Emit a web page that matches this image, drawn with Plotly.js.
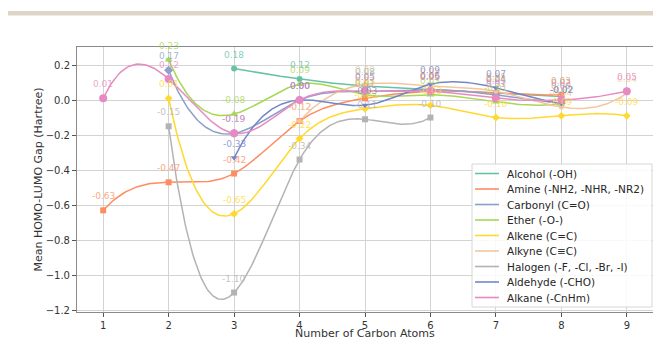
<!DOCTYPE html>
<html>
<head>
<meta charset="utf-8">
<script src="https://cdn.plot.ly/plotly-3.0.1.min.js"></script>
<style>
  html, body { margin: 0; padding: 0; background: #fff; }
  #chart { width: 653px; height: 338px; }
</style>
</head>
<body>
<div id="chart"></div>
<script>
// Mean HOMO-LUMO gap per functional group versus carbon count
const groupNames = [
  "Alcohol (-OH)",
  "Amine (-NH2, -NHR, -NR2)",
  "Carbonyl (C=O)",
  "Ether (-O-)",
  "Alkene (C=C)",
  "Alkyne (C\u2261C)",
  "Halogen (-F, -Cl, -Br, -I)",
  "Aldehyde (-CHO)",
  "Alkane (-CnHm)"
];

const alcoholX  = [3, 4, 5, 6, 7, 8];
const alcoholY  = [0.18, 0.12, 0.08, 0.06, 0.04, 0.02];
const amineX    = [1, 2, 3, 4, 5, 6, 7, 8];
const amineY    = [-0.63, -0.47, -0.42, -0.12, 0.01, 0.05, 0.04, 0.03];
const carbonylX = [2, 3, 4, 5, 6, 7, 8];
const carbonylY = [0.17, -0.19, 0.00, 0.05, 0.06, 0.03, -0.02];
const etherX    = [2, 3, 4, 5, 6, 7, 8];
const etherY    = [0.23, -0.08, 0.09, 0.03, 0.03, -0.01, -0.02];
const alkeneX   = [2, 3, 4, 5, 6, 7, 8, 9];
const alkeneY   = [0.01, -0.65, -0.22, -0.05, -0.03, -0.10, -0.09, -0.09];
const alkyneX   = [4, 5, 6, 7, 8, 9];
const alkyneY   = [-0.12, 0.09, 0.08, 0.05, -0.04, 0.04];
const halogenX  = [2, 3, 4, 5, 6];
const halogenY  = [-0.15, -1.10, -0.34, -0.11, -0.10];
const aldehydeX = [3, 4, 5, 6, 7, 8];
const aldehydeY = [-0.33, 0.00, -0.03, 0.09, 0.07, -0.02];
const alkaneX   = [1, 2, 3, 4, 5, 6, 7, 8, 9];
const alkaneY   = [0.01, 0.12, -0.19, 0.00, 0.05, 0.05, 0.01, 0.00, 0.05];

const xTicks = [1, 2, 3, 4, 5, 6, 7, 8, 9];
const yTicks = [-1.2, -1.0, -0.8, -0.6, -0.4, -0.2, 0.0, 0.2];

const groupColors = ["#66c2a5", "#fc8d62", "#8da0cb", "#a6d854", "#ffd92f",
                     "#f3c6a0", "#b3b3b3", "#7486c6", "#e78ac3"];
const groupSymbols = ["circle", "square", "diamond", "triangle-up", "diamond",
                      "circle", "square", "triangle-down", "circle"];
const groupSizes = [6, 6, 7, 7, 6, 5, 6, 6, 8];

const groups = [
  [alcoholX, alcoholY], [amineX, amineY], [carbonylX, carbonylY],
  [etherX, etherY], [alkeneX, alkeneY], [alkyneX, alkyneY],
  [halogenX, halogenY], [aldehydeX, aldehydeY], [alkaneX, alkaneY]
];

// Cubic spline with not-a-knot end conditions, used to draw the smooth curves
function splineCurve(xs, ys, samples) {
  const n = xs.length;
  const h = [];
  for (let i = 0; i < n - 1; i++) h.push(xs[i + 1] - xs[i]);
  let M = new Array(n).fill(0);
  if (n === 3) {
    const s0 = (ys[1] - ys[0]) / h[0], s1 = (ys[2] - ys[1]) / h[1];
    const c = 2 * (s1 - s0) / (h[0] + h[1]);
    M = [c, c, c];
  } else if (n >= 4) {
    const A = [], b = [];
    for (let r = 0; r < n; r++) { A.push(new Array(n).fill(0)); b.push(0); }
    A[0][0] = h[1]; A[0][1] = -(h[0] + h[1]); A[0][2] = h[0];
    for (let i = 1; i < n - 1; i++) {
      A[i][i - 1] = h[i - 1];
      A[i][i] = 2 * (h[i - 1] + h[i]);
      A[i][i + 1] = h[i];
      b[i] = 6 * ((ys[i + 1] - ys[i]) / h[i] - (ys[i] - ys[i - 1]) / h[i - 1]);
    }
    A[n - 1][n - 3] = h[n - 2]; A[n - 1][n - 2] = -(h[n - 3] + h[n - 2]); A[n - 1][n - 1] = h[n - 3];
    // Gaussian elimination with partial pivoting
    for (let k = 0; k < n; k++) {
      let p = k;
      for (let r = k + 1; r < n; r++) if (Math.abs(A[r][k]) > Math.abs(A[p][k])) p = r;
      [A[k], A[p]] = [A[p], A[k]]; [b[k], b[p]] = [b[p], b[k]];
      for (let r = k + 1; r < n; r++) {
        const f = A[r][k] / A[k][k];
        for (let c = k; c < n; c++) A[r][c] -= f * A[k][c];
        b[r] -= f * b[k];
      }
    }
    for (let k = n - 1; k >= 0; k--) {
      let s = b[k];
      for (let c = k + 1; c < n; c++) s -= A[k][c] * M[c];
      M[k] = s / A[k][k];
    }
  }
  const outX = [], outY = [];
  const x0 = xs[0], x1 = xs[n - 1];
  for (let s = 0; s <= samples; s++) {
    const x = x0 + (x1 - x0) * s / samples;
    let i = 0;
    while (i < n - 2 && x > xs[i + 1]) i++;
    const hi = h[i], a = xs[i + 1] - x, c = x - xs[i];
    const y = M[i] * a * a * a / (6 * hi) + M[i + 1] * c * c * c / (6 * hi)
            + (ys[i] / hi - M[i] * hi / 6) * a + (ys[i + 1] / hi - M[i + 1] * hi / 6) * c;
    outX.push(x); outY.push(y);
  }
  return [outX, outY];
}

function withAlpha(hex, a) {
  const v = parseInt(hex.slice(1), 16);
  return `rgba(${(v >> 16) & 255},${(v >> 8) & 255},${v & 255},${a})`;
}

const traces = [];
groups.forEach(([xs, ys], g) => {
  const [sx, sy] = splineCurve(xs, ys, 240);
  traces.push({
    x: sx, y: sy, type: "scatter", mode: "lines",
    line: { color: groupColors[g], width: 1.5 },
    hoverinfo: "skip", showlegend: false
  });
});
groups.forEach(([xs, ys], g) => {
  traces.push({
    x: xs, y: ys, type: "scatter", mode: "markers",
    name: groupNames[g],
    marker: { color: groupColors[g], symbol: groupSymbols[g], size: groupSizes[g] },
    cliponaxis: false, showlegend: false
  });
});

// Page geometry
const W = 653, H = 338;
const margin = { l: 77, r: 0, t: 47, b: 26 };
const plotW = W - margin.l - margin.r, plotH = H - margin.t - margin.b;
const px2x = p => (p - margin.l) / plotW;
const py2y = p => (H - margin.b - p) / plotH;

const annotations = [];
// value labels above each point
groups.forEach(([xs, ys], g) => {
  xs.forEach((xv, k) => {
    annotations.push({
      x: xv, y: ys[k], xref: "x", yref: "y", showarrow: false,
      text: ys[k].toFixed(2), yanchor: "middle", xanchor: "center", yshift: 14,
      font: { family: "DejaVu Sans", size: 9, color: withAlpha(groupColors[g], 0.8) }
    });
  });
});

const shapes = [
  // header band across the top of the page
  { type: "rect", xref: "paper", yref: "paper",
    x0: px2x(8), x1: px2x(653), y0: py2y(15.5), y1: py2y(11),
    fillcolor: "#ddd6c7", line: { width: 0 }, layer: "above" },
  // legend frame
  { type: "rect", xref: "paper", yref: "paper",
    x0: px2x(472), x1: px2x(652), y0: py2y(307), y1: py2y(164),
    fillcolor: "rgba(255,255,255,0.85)", line: { color: "#d6d6d6", width: 1 }, layer: "above" }
];
groupNames.forEach((name, i) => {
  const rowY = 173.5 + 15.5 * i;
  shapes.push({ type: "line", xref: "paper", yref: "paper",
    x0: px2x(475), x1: px2x(499), y0: py2y(rowY), y1: py2y(rowY),
    line: { color: groupColors[i], width: 1.6 }, layer: "above" });
  annotations.push({ xref: "paper", yref: "paper", x: px2x(505), y: py2y(rowY),
    xanchor: "left", yanchor: "middle", showarrow: false, text: name,
    font: { family: "DejaVu Sans", size: 10.5, color: "#262626" } });
});

// x-axis title sits low, at the page's bottom edge
annotations.push({ xref: "paper", yref: "paper", x: 0.5, y: py2y(333),
  xanchor: "center", yanchor: "middle", showarrow: false,
  text: "Number of Carbon Atoms",
  font: { family: "DejaVu Sans", size: 11, color: "#333" } });

const layout = {
  width: W, height: H, margin: margin,
  paper_bgcolor: "#ffffff", plot_bgcolor: "#ffffff",
  font: { family: "DejaVu Sans", size: 10, color: "#333" },
  showlegend: false,
  xaxis: {
    range: [0.6, 9.4], tickvals: xTicks, ticktext: xTicks.map(String),
    showgrid: true, gridcolor: "#d3d3d3", gridwidth: 1, zeroline: false,
    showline: true, linecolor: "#8a8a8a", linewidth: 1, mirror: true,
    ticks: "outside", ticklen: 4, tickcolor: "#555",
    tickfont: { family: "DejaVu Sans", size: 10, color: "#333" }
  },
  yaxis: {
    range: [-1.211, 0.303], tickvals: yTicks, tickformat: ".1f",
    showgrid: true, gridcolor: "#d3d3d3", gridwidth: 1, zeroline: false,
    showline: true, linecolor: "#8a8a8a", linewidth: 1, mirror: true,
    ticks: "outside", ticklen: 4, tickcolor: "#555",
    tickfont: { family: "DejaVu Sans", size: 10, color: "#333" },
    title: { text: "Mean HOMO-LUMO Gap (Hartree)", standoff: 0,
             font: { family: "DejaVu Sans", size: 11, color: "#333" } }
  },
  shapes: shapes,
  annotations: annotations
};

Plotly.newPlot("chart", traces, layout, { displayModeBar: false, staticPlot: true });
</script>
</body>
</html>
